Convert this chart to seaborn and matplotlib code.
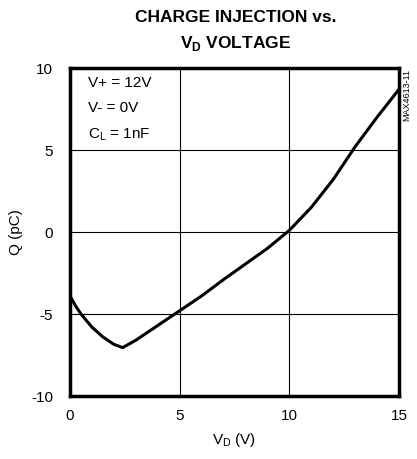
import numpy as np
import pandas as pd
import matplotlib
matplotlib.use('Agg')
import matplotlib.pyplot as plt
import seaborn as sns
from matplotlib import font_manager

# -------------------------------
# data
# -------------------------------
vd = [0, 0.25, 0.5, 1, 1.5, 2, 2.4, 3, 4, 5, 6, 7, 8, 9, 10, 11, 12, 13, 14, 15]
q = [-3.9, -4.5, -5.0, -5.8, -6.4, -6.85, -7.05, -6.6, -5.7, -4.8, -3.9, -2.9,
     -1.95, -1.0, 0.1, 1.5, 3.2, 5.2, 7.0, 8.7]
x_ticks = [0, 5, 10, 15]
y_ticks = [-10, -5, 0, 5, 10]
conditions = ['V+ = 12V', 'V- = 0V', 'C$_\\mathregular{L}$ = 1nF']

df = pd.DataFrame({'vd': vd, 'q': q})

sns.set_style('white')
names = {f.name for f in font_manager.fontManager.ttflist}
fam = 'Liberation Sans Narrow' if 'Liberation Sans Narrow' in names else 'Liberation Sans'
plt.rcParams['font.family'] = [fam, 'DejaVu Sans']
plt.rcParams['mathtext.fontset'] = 'custom'
plt.rcParams['mathtext.rm'] = fam
plt.rcParams['mathtext.bf'] = fam + ':bold'
for k in ['text.color', 'axes.labelcolor', 'xtick.color', 'ytick.color']:
    plt.rcParams[k] = 'black'

fig = plt.figure(figsize=(4.17, 4.59), dpi=100)
ax = fig.add_axes([70 / 417, 63 / 459, 329 / 417, 328 / 459])

sns.lineplot(data=df, x='vd', y='q', ax=ax, color='black', linewidth=2.2)

ax.set_xlim(0, 15)
ax.set_ylim(-10, 10)
ax.set_xticks(x_ticks)
ax.set_yticks(y_ticks)
ax.set_xticklabels([str(t) for t in x_ticks], fontsize=11)
ax.set_yticklabels([str(t) for t in y_ticks], fontsize=11)
ax.tick_params(axis='x', length=0, pad=9)
ax.tick_params(axis='y', length=0, pad=12)
ax.grid(True, color='black', linewidth=0.8)
for s in ax.spines.values():
    s.set_visible(True)
    s.set_color('black')
    s.set_linewidth(2.5)

ax.set_xlabel('V$_\\mathregular{D}$ (V)', fontsize=11, labelpad=6)
ax.set_ylabel('Q (pC)', fontsize=11, labelpad=6)

for i, t in enumerate(conditions):
    ax.text(0.055, 0.975 - i * 0.077, t, transform=ax.transAxes, fontsize=11,
            va='top', ha='left')

fig.text(0.565, 0.978, 'CHARGE INJECTION vs.', ha='center', va='top',
         fontsize=12.5, fontweight='heavy')
fig.text(0.565, 0.925, 'V$_\\mathbf{D}$ VOLTAGE', ha='center', va='top',
         fontsize=12.5, fontweight='heavy')
fig.text(0.975, 0.85, 'MAX4613-11', rotation=90, ha='center', va='top',
         fontsize=6.5)

fig.savefig('out.png', dpi=100)
